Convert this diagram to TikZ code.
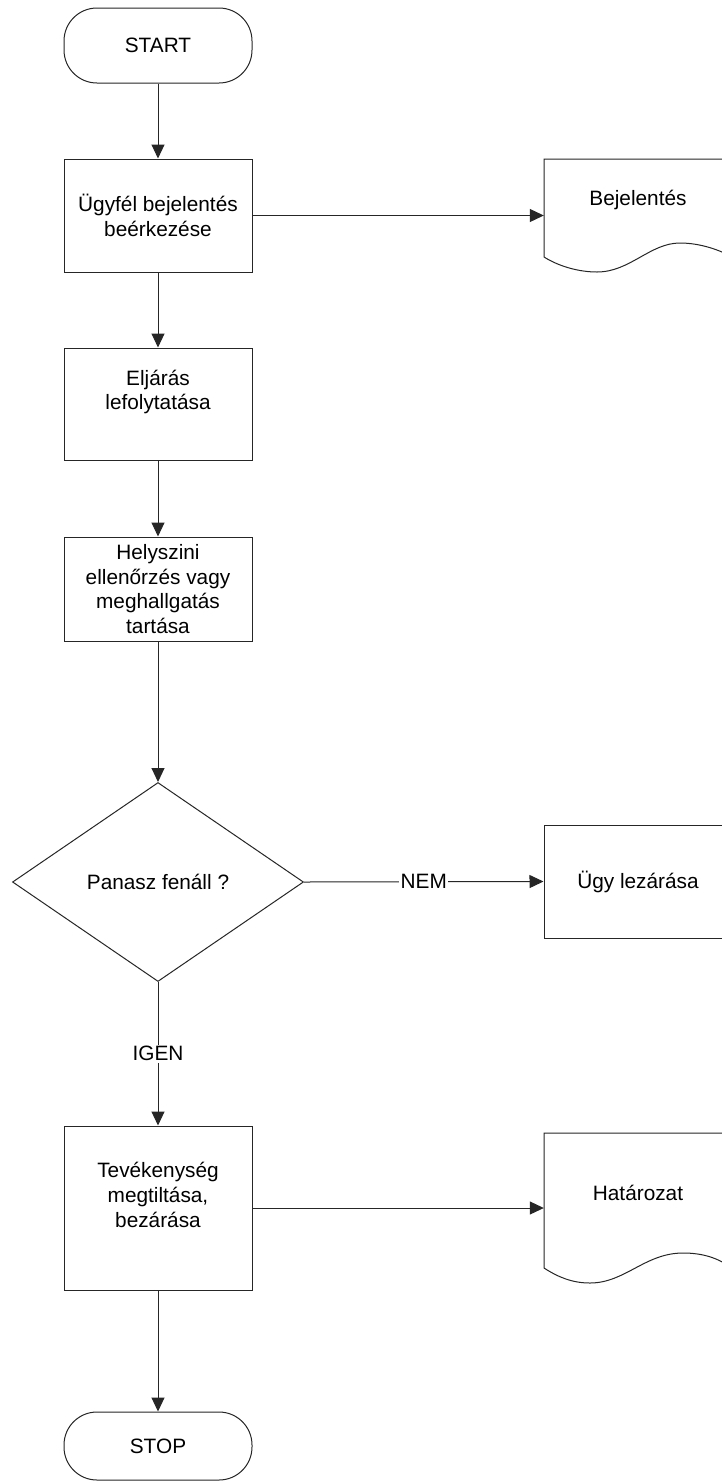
\documentclass[tikz,border=0pt]{standalone}
\usepackage{fontspec}
\setmainfont{Liberation Sans}
\usetikzlibrary{shapes.geometric,arrows.meta}
\begin{document}
\begin{tikzpicture}[x=1pt,y=-1pt,
  every node/.style={font=\fontsize{20.8}{24.8}\selectfont, inner sep=0pt},
  line/.style={line width=1pt, draw=black!85},
  arr/.style={line, -{Triangle[length=14pt,width=13pt]}},
  terminal/.style={rectangle, rounded corners=33pt, draw=black!85,
    line width=1pt, minimum width=188pt},
  procbox/.style={rectangle, draw=black!85, line width=1pt, minimum width=188pt, align=center},
  boxtext/.style={align=center},
  decision/.style={diamond, draw=black!85, line width=1pt, minimum width=291pt,
    minimum height=199pt, shape aspect=1.46},
  doctext/.style={minimum width=188pt},
  edgelabel/.style={fill=white, inner sep=1.5pt}
]
\useasboundingbox (0,0) rectangle (722,1484);
\fill[white] (0,0) rectangle (722,1484);
\clip (0,0) rectangle (722,1484);

% main column
\node[terminal, minimum height=75pt] (start) at (158,45.5) {START};
\node[procbox, minimum height=113pt] (b1) at (158,215.5) {Ügyfél bejelentés\\beérkezése};
\node[procbox, minimum height=112pt] (b2) at (158,404) {};
\node[boxtext] (b2t) at (158,392) {Eljárás\\lefolytatása};
\node[procbox, minimum height=104pt] (b3) at (158,589) {Helyszini\\ellenőrzés vagy\\meghallgatás\\tartása};
\node[decision] (dec) at (158,882) {Panasz fenáll ?};
\node[procbox, minimum height=164pt] (b4) at (158,1208) {};
\node[boxtext] (b4t) at (158,1195) {Tevékenység\\megtiltása,\\bezárása};
\node[terminal, minimum height=68pt] (stop) at (158,1446) {STOP};

% right column
\node[procbox, minimum height=113pt] (ugy) at (638,881.5) {Ügy lezárása};

% document shapes (wavy bottom edge)
\draw[line] (544,257) -- (544,159) -- (732,159) -- (732,257)
  .. controls (720,250) and (700,243) .. (680,243)
  .. controls (650,243) and (630,272) .. (597,272)
  .. controls (580,272) and (560,267) .. (544,257) -- cycle;
\node[doctext] (bej) at (638,200) {Bejelentés};

\draw[line] (544,1268) -- (544,1133) -- (732,1133) -- (732,1268)
  .. controls (718,1258) and (703,1253) .. (683,1253)
  .. controls (645,1253) and (625,1283) .. (590,1283)
  .. controls (572,1283) and (558,1277) .. (544,1268) -- cycle;
\node[doctext] (hat) at (638,1193) {Határozat};

% connectors
\draw[arr] (start.south) -- (b1.north);
\draw[arr] (b1.east) -- (b1.east -| bej.west);
\draw[arr] (b1.south) -- (b2.north);
\draw[arr] (b2.south) -- (b3.north);
\draw[arr] (b3.south) -- (dec.north);
\draw[arr] (dec.east) -- node[edgelabel] {NEM} (ugy.west);
\draw[arr] (dec.south) -- node[edgelabel] {IGEN} (b4.north);
\draw[arr] (b4.east) -- (b4.east -| hat.west);
\draw[arr] (b4.south) -- (stop.north);
\end{tikzpicture}
\end{document}
